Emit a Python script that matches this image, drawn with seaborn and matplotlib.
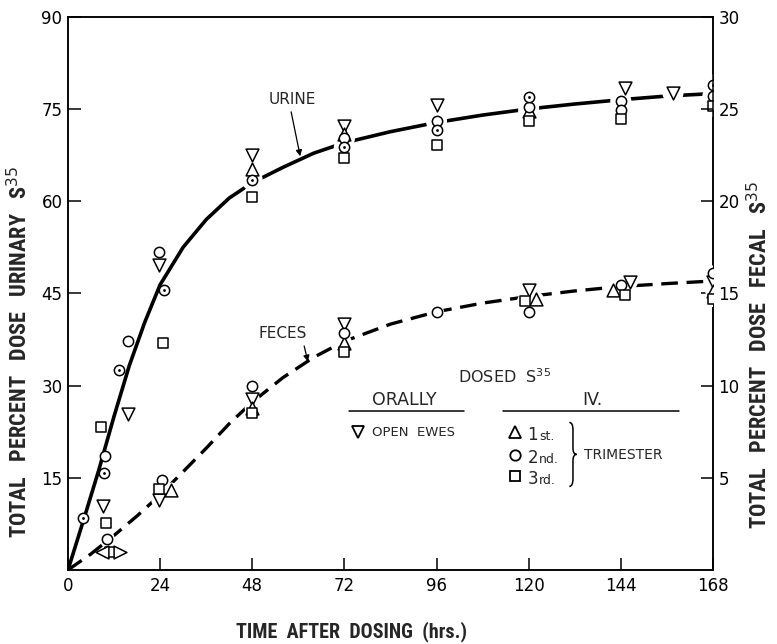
import matplotlib
matplotlib.use("Agg")
import matplotlib.pyplot as plt
from matplotlib.path import Path
from matplotlib.patches import PathPatch
import seaborn as sns

# ---- fitted excretion curves (hours after dosing) ----
urine_curve_hours = [0, 4, 8, 12, 16, 20, 24, 30, 36, 42, 48, 56, 64, 72, 84, 96,
                     108, 120, 132, 144, 156, 168]
urine_curve_pct = [0, 8.0, 16.2, 25.0, 33.3, 40.3, 46.4, 52.5, 57, 60.5, 63, 65.5,
                   67.8, 69.5, 71.3, 72.8, 74.0, 75.0, 75.8, 76.5, 77.1, 77.5]

feces_curve_hours = [0, 6, 12, 18, 24, 30, 36, 42, 48, 56, 64, 72, 84, 96, 108,
                     120, 132, 144, 156, 168]
feces_curve_pct = [0, 0.87, 1.87, 2.93, 4.07, 5.33, 6.6, 7.93, 9.1, 10.43, 11.53,
                   12.4, 13.33, 14.0, 14.47, 14.83, 15.13, 15.37, 15.53, 15.67]

# ---- urinary S35 observations (% of dose) ----
urine_open_hours = [9, 15.6, 23.7, 48, 72, 96, 145, 157.6]
urine_open_pct = [10.4, 25.4, 49.6, 67.5, 72.3, 75.6, 78.4, 77.6]
urine_first_hours = [48, 72, 120]
urine_first_pct = [65.2, 70.9, 74.6]
urine_second_hours = [9.6, 15.6, 23.7, 72, 96, 120, 144, 144, 168]
urine_second_pct = [18.6, 37.3, 51.7, 70.2, 73.0, 75.3, 76.3, 74.9, 77.1]
urine_second_dot_hours = [3.9, 9.4, 13.3, 25, 48, 72, 96, 120, 168]
urine_second_dot_pct = [8.4, 15.8, 32.5, 45.5, 63.4, 68.8, 71.6, 76.9, 78.9]
urine_third_hours = [8.6, 9.9, 24.8, 48, 72, 96, 120, 144, 168]
urine_third_pct = [23.3, 7.7, 36.9, 60.6, 67.1, 69.2, 73.1, 73.3, 75.4]

# ---- fecal S35 observations (% of dose) ----
feces_open_hours = [23.7, 48, 72, 120, 146.5, 168]
feces_open_pct = [3.77, 9.25, 13.33, 15.2, 15.63, 15.6]
feces_first_hours = [26.9, 48, 72, 122, 142, 168]
feces_first_pct = [4.33, 8.8, 12.33, 14.67, 15.17, 15.1]
feces_second_hours = [10.2, 24.5, 48, 72, 96, 120, 144, 168]
feces_second_pct = [1.7, 4.87, 10.0, 12.87, 13.97, 14.0, 15.43, 16.1]
feces_third_hours = [11, 23.7, 48, 72, 119, 145, 168]
feces_third_pct = [1.0, 4.37, 8.5, 11.83, 14.6, 14.9, 14.67]
feces_side_hours = [8.9, 13.6]
feces_side_pct = [1.0, 1.0]
feces_side_markers = ["<", ">"]

x_ticks = [0, 24, 48, 72, 96, 120, 144, 168]
urine_ticks = [15, 30, 45, 60, 75, 90]
fecal_ticks = [5, 10, 15, 20, 25, 30]

sns.set_theme(style="white")
plt.rcParams["font.family"] = ["DejaVu Sans"]
plt.rcParams["mathtext.fontset"] = "dejavusans"

LABEL_FONT = ["Roboto Condensed", "Liberation Sans Narrow", "Roboto"]

fig = plt.figure(figsize=(7.77, 6.44), dpi=100)
ax = fig.add_axes([0.0875, 0.115, 0.830, 0.859])
ax2 = ax.twinx()


def open_markers(axis, hours, values, marker, size, dotted=False):
    sns.scatterplot(x=hours, y=values, marker=marker, s=size, color="white",
                    edgecolor="black", linewidth=1.1, zorder=5, ax=axis, legend=False)
    if dotted:
        sns.scatterplot(x=hours, y=values, marker="o", s=4, color="black",
                        edgecolor="black", linewidth=0, zorder=6, ax=axis, legend=False)


def clear_behind(axis, hours, values, size):
    sns.scatterplot(x=hours, y=values, marker="o", s=size, color="white",
                    edgecolor="none", linewidth=0, zorder=3, ax=axis, legend=False)


# urine curve and points
sns.lineplot(x=urine_curve_hours, y=urine_curve_pct, color="black", lw=2.6,
             zorder=2, ax=ax, estimator=None)
all_uh = (urine_open_hours + urine_first_hours + urine_second_hours
          + urine_second_dot_hours + urine_third_hours)
all_uv = (urine_open_pct + urine_first_pct + urine_second_pct
          + urine_second_dot_pct + urine_third_pct)
late = [(h, v) for h, v in zip(all_uh, all_uv) if h > 40]
clear_behind(ax, [p[0] for p in late], [p[1] for p in late], 230)
open_markers(ax, urine_open_hours, urine_open_pct, "v", 85)
open_markers(ax, urine_first_hours, urine_first_pct, "^", 85)
open_markers(ax, urine_second_hours, urine_second_pct, "o", 55)
open_markers(ax, urine_second_dot_hours, urine_second_dot_pct, "o", 55, dotted=True)
open_markers(ax, urine_third_hours, urine_third_pct, "s", 50)

# feces curve and points (right-hand scale)
sns.lineplot(x=feces_curve_hours, y=feces_curve_pct, color="black", lw=2.4,
             linestyle=(0, (5, 2.6)), zorder=2, ax=ax2, estimator=None)
all_fh = feces_open_hours + feces_first_hours + feces_second_hours + feces_third_hours
all_fv = feces_open_pct + feces_first_pct + feces_second_pct + feces_third_pct
clear_behind(ax2, all_fh, all_fv, 120)
open_markers(ax2, feces_open_hours, feces_open_pct, "v", 85)
open_markers(ax2, feces_first_hours, feces_first_pct, "^", 85)
open_markers(ax2, feces_second_hours, feces_second_pct, "o", 55)
open_markers(ax2, feces_third_hours, feces_third_pct, "s", 50)
for h, v, m in zip(feces_side_hours, feces_side_pct, feces_side_markers):
    open_markers(ax2, [h], [v], m, 85)

# axes, ticks and spines
ax.set_xlim(0, 168)
ax.set_ylim(0, 90)
ax2.set_ylim(0, 30)
ax.set_xticks(x_ticks)
ax.set_yticks(urine_ticks)
ax2.set_yticks(fecal_ticks)
ax.set_xticklabels([str(t) for t in x_ticks])
ax.set_yticklabels([str(t) for t in urine_ticks])
ax2.set_yticklabels([str(t) for t in fecal_ticks])
ax.tick_params(axis="x", direction="in", length=9, width=1.1, labelsize=12,
               pad=5, colors="black", bottom=True, top=False)
ax.tick_params(axis="y", direction="in", length=9, width=1.1, labelsize=12,
               pad=4, colors="black", left=True, right=False)
ax2.tick_params(axis="y", direction="in", length=9, width=1.1, labelsize=12,
                pad=4, colors="black", right=True)
for axis in (ax, ax2):
    for sp in axis.spines.values():
        sp.set_color("black")
        sp.set_linewidth(1.1)
ax.set_xlabel("")
ax.set_ylabel("")
ax2.set_ylabel("")

# axis titles
fig.text(0.025, 0.453, "TOTAL   PERCENT   DOSE   URINARY   S$^{35}$", rotation=90,
         ha="center", va="center", fontsize=16, fontweight="bold", family=LABEL_FONT)
fig.text(0.977, 0.449, "TOTAL   PERCENT   DOSE   FECAL   S$^{35}$", rotation=90,
         ha="center", va="center", fontsize=16, fontweight="bold", family=LABEL_FONT)
fig.text(0.452, 0.019, "TIME  AFTER  DOSING  (hrs.)", ha="center", va="center",
         fontsize=14.5, fontweight="bold", family=LABEL_FONT)

# curve labels
ax.annotate("URINE", xy=(60.5, 67.3), xytext=(58.5, 76.5), ha="center", va="center",
            fontsize=11, zorder=7,
            arrowprops=dict(arrowstyle="-|>", color="black", lw=0.9, mutation_scale=9,
                            shrinkA=1, shrinkB=0, relpos=(0.45, 0.0)))
ax2.annotate("FECES", xy=(62.5, 11.3), xytext=(56, 12.8), ha="center", va="center",
             fontsize=11, zorder=7,
             arrowprops=dict(arrowstyle="-|>", color="black", lw=0.9, mutation_scale=9,
                             shrinkA=1, shrinkB=0, relpos=(0.9, 0.2)))

# key block
ax.text(113.8, 31.4, "DOSED  S$^{35}$", ha="center", va="center", fontsize=11.5)
ax.text(87.5, 27.6, "ORALLY", ha="center", va="center", fontsize=12.5)
ax.text(136.7, 27.6, "IV.", ha="center", va="center", fontsize=12.5)
ax.plot([73.2, 103.1], [25.9, 25.9], color="black", lw=1.1)
ax.plot([113.3, 159.1], [25.9, 25.9], color="black", lw=1.1)

key_y = [22.4, 18.7, 15.3]
ax.plot([75.5], [22.4], marker="v", ms=8.5, mfc="white", mec="black", mew=1.3, ls="none")
ax.text(79.2, 22.4, "OPEN  EWES", ha="left", va="center", fontsize=9.5)
for y, m, ms, lab in zip(key_y, ["^", "o", "s"], [8.5, 7.5, 7.0], ["1st.", "2nd.", "3rd."]):
    ax.plot([116.4], [y], marker=m, ms=ms, mfc="white", mec="black", mew=1.3, ls="none")
    ax.text(122.5, y - 1.3, lab[0], ha="right", va="baseline", fontsize=12)
    ax.text(122.7, y - 1.3, lab[1:], ha="left", va="baseline", fontsize=9)
ax.text(134.4, 18.7, "TRIMESTER", ha="left", va="center", fontsize=10)

# brace joining the trimester rows
bx, bw, yt, yb = 130.6, 1.9, 24.0, 13.6
ym = (yt + yb) / 2
hh = yt - yb
verts = [(bx, yt), (bx + 0.5 * bw, yt), (bx + 0.5 * bw, yt - 0.12 * hh),
         (bx + 0.5 * bw, ym + 0.1 * hh),
         (bx + 0.5 * bw, ym), (bx + bw, ym),
         (bx + 0.5 * bw, ym), (bx + 0.5 * bw, ym - 0.1 * hh),
         (bx + 0.5 * bw, yb + 0.12 * hh),
         (bx + 0.5 * bw, yb), (bx, yb)]
codes = [Path.MOVETO, Path.CURVE3, Path.CURVE3, Path.LINETO, Path.CURVE3, Path.CURVE3,
         Path.CURVE3, Path.CURVE3, Path.LINETO, Path.CURVE3, Path.CURVE3]
ax.add_patch(PathPatch(Path(verts, codes), facecolor="none", edgecolor="black", lw=1.1))

fig.savefig("out.png", dpi=100, facecolor="white")
